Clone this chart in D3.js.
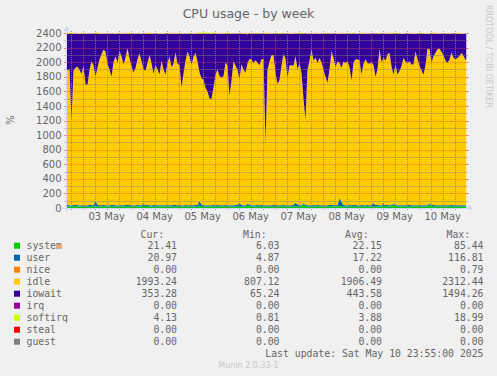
<!DOCTYPE html>
<html>
<head>
<meta charset="utf-8">
<script src="https://cdn.jsdelivr.net/npm/d3@7"></script>
<style>
    body { margin: 0; background: #F0F0F0; }
    svg { display: block; }
    text { font-family: "DejaVu Sans", sans-serif; fill: #666666; }
    .mono { font-family: "DejaVu Sans Mono", monospace; }
</style>
</head>
<body>
<svg id="chart" width="497" height="376"></svg>

<script>
    // one value per hour, 2025-05-02 15:55 -> 2025-05-10 23:55
    var startTime = new Date(2025, 4, 2, 15, 55);
    var endTime = new Date(2025, 4, 10, 23, 55);

    var system = [
        22,21,20,23,24,21,20,19,22,21,20,22,23,21,25,22,20,21,22,21,
        20,21,23,22,21,20,22,21,23,22,24,21,20,22,21,23,22,21,40,24,
        22,21,20,22,23,21,22,20,21,23,22,21,20,22,24,21,22,21,20,22,
        21,23,22,20,21,22,35,24,22,21,20,22,21,23,22,21,20,22,21,23,
        22,21,20,22,21,23,22,21,20,22,45,30,22,21,20,22,21,23,22,21,
        20,22,21,23,22,21,20,22,24,21,22,21,20,22,23,21,22,21,50,28,
        22,21,20,22,21,23,22,21,20,22,21,23,22,21,24,22,28,25,22,21,
        20,22,21,23,22,21,20,22,21,23,22,21,20,22,21,23,22,21,40,24,
        22,21,20,45,26,22,21,20,22,21,23,22,21,20,22,21,23,22,21,20,
        22,45,26,22,21,20,22,21,23,22,21,20,22,21,23,22,21,20,22,21
    ];
    var user = [
        18,17,16,18,19,17,16,18,17,16,18,19,17,18,80,22,17,16,18,17,
        16,18,17,19,17,16,18,17,16,18,17,19,18,17,16,18,17,16,18,17,
        18,17,16,18,19,17,16,18,17,16,18,17,19,18,17,16,18,17,16,18,
        17,16,18,17,19,18,60,25,17,16,18,17,16,18,17,19,18,17,16,18,
        17,16,18,17,19,18,45,20,17,16,18,17,16,18,17,19,18,17,16,18,
        17,16,18,17,19,18,17,16,18,17,16,18,17,19,50,30,17,16,18,17,
        16,18,17,19,18,17,16,18,17,16,18,17,19,18,17,16,110,60,18,17,
        16,18,17,19,18,17,16,18,17,16,18,17,19,45,20,17,16,18,17,16,
        18,17,19,18,17,16,18,17,16,18,17,19,18,17,16,18,17,16,18,17,
        16,18,17,19,18,17,16,18,17,16,18,17,19,18,17,16,18,17,16,18
    ];
    var idle = [
        1850,1860,1160,1840,1880,1900,1860,1800,1910,1660,1650,1850,1970,1920,1695,1880,2000,2070,2130,2110,
        1940,1860,1760,1960,2040,1960,2110,2040,1930,2020,2150,2010,1910,1820,1880,2000,2080,1980,1840,1840,
        1950,2060,1950,1800,1920,1860,1790,1980,1860,1790,1950,2040,1890,1940,2090,1940,1920,1610,1810,1980,
        2110,2040,1920,2040,2090,1970,1765,1730,1720,1610,1560,1460,1460,1610,1790,1860,1770,1750,1770,1950,
        1920,1500,1710,1970,1910,1860,1695,1930,1860,1820,1920,1995,2000,1950,1990,1950,1920,2000,2010,860,
        1860,1970,2060,2060,1810,1660,1720,1910,2070,2010,1750,1920,1920,1910,2010,1850,1950,1810,1430,1160,
        1860,1980,2140,1980,2020,1950,2020,1960,1860,1760,1680,1860,2110,2020,1890,1970,1850,1835,1970,1950,
        1980,1890,1710,1950,2000,2000,1990,1790,1940,2000,1950,1940,1960,1895,1760,1860,2140,1960,2000,1980,
        2070,2090,1900,1765,1920,1790,1840,1910,2020,1970,1950,1970,1930,1930,2110,2000,1910,1850,1790,1920,
        2150,2115,1950,2040,2090,2140,2150,2100,2050,1980,1950,2000,2090,2020,2000,2020,2050,2090,2050,1990
    ];
    var iowait = [
        500,490,1190,510,470,450,490,550,440,690,700,500,380,430,590,470,350,280,220,240,
        410,490,590,390,310,390,240,310,420,330,200,340,440,530,470,350,270,370,490,510,
        400,290,400,550,430,490,560,370,490,560,400,310,460,410,260,410,430,740,540,370,
        240,310,430,310,260,380,530,610,630,740,790,890,890,740,560,490,580,600,580,400,
        430,850,640,380,440,490,630,420,490,530,400,350,350,400,360,400,430,350,340,1490,
        490,380,290,290,540,690,630,440,280,340,600,430,430,440,310,490,400,540,890,1190,
        490,370,210,370,330,400,330,390,490,590,670,490,240,330,460,380,400,470,380,400,
        370,460,640,400,350,350,360,560,410,350,400,410,390,430,590,490,210,390,330,370,
        280,260,450,560,430,560,510,440,330,380,400,380,420,420,240,350,440,500,560,430,
        200,210,400,310,260,210,200,250,300,370,400,350,260,330,350,330,300,260,300,360
    ];
    var softirq = [
        14,15,13,12,4,3,4,13,14,3,4,3,4,3,12,14,13,4,3,4,
        3,4,3,4,3,13,12,3,4,3,4,14,13,4,3,4,3,4,3,4,
        15,14,13,4,3,4,3,4,3,12,14,4,3,4,13,12,3,4,3,4,
        3,14,4,3,4,15,16,18,17,16,15,14,17,16,15,4,3,4,3,13,
        14,12,4,3,4,3,13,4,3,14,15,4,3,4,13,14,3,4,12,14,
        13,4,3,4,12,13,4,14,12,3,4,3,4,13,4,3,14,15,13,4,
        3,4,3,4,3,4,3,4,3,13,14,4,3,4,3,4,3,4,3,4,
        3,4,14,13,4,3,12,14,4,3,4,3,4,3,4,3,13,4,3,4,
        3,4,15,14,4,13,14,4,3,4,3,4,3,4,3,4,13,14,12,4,
        3,4,14,15,4,3,4,3,4,3,13,4,3,4,3,12,13,4,3,4
    ];

    var seriesNames = ["system", "user", "nice", "idle", "iowait", "irq", "softirq", "steal", "guest"];
    var seriesColors = ["#00CC00", "#0066B3", "#FF8000", "#FFCC00", "#330099", "#990099", "#CCFF00", "#FF0000", "#808080"];
    var curVals = ["21.41", "20.97", "0.00", "1993.24", "353.28", "0.00", "4.13", "0.00", "0.00"];
    var minVals = ["6.03", "4.87", "0.00", "807.12", "65.24", "0.00", "0.81", "0.00", "0.00"];
    var avgVals = ["22.15", "17.22", "0.00", "1906.49", "443.58", "0.00", "3.88", "0.00", "0.00"];
    var maxVals = ["85.44", "116.81", "0.79", "2312.44", "1494.26", "0.00", "18.99", "0.00", "0.00"];

    var yTicks = [0, 200, 400, 600, 800, 1000, 1200, 1400, 1600, 1800, 2000, 2200, 2400];
    var dayLabels = ["03 May", "04 May", "05 May", "06 May", "07 May", "08 May", "09 May", "10 May"];

    var svg = d3.select("#chart");
    var W = 497, H = 376;
    var X0 = 66.5, X1 = 466.5, Y0 = 208, Y1 = 33;

    svg.append("rect").attr("width", W).attr("height", H).attr("fill", "#F0F0F0");
    svg.append("rect").attr("x", X0).attr("y", Y1).attr("width", X1 - X0).attr("height", Y0 - Y1).attr("fill", "#FFFFFF");

    var x = d3.scaleTime().domain([startTime, endTime]).range([X0, X1]);
    var y = d3.scaleLinear().domain([0, 2400]).range([Y0, Y1]);

    // table for the stack
    var rows = system.map(function (v, i) {
        return {
            t: new Date(+startTime + (i + 0.5) * 3600e3),
            system: v, user: user[i], idle: idle[i], iowait: iowait[i], softirq: softirq[i]
        };
    });
    rows.unshift(Object.assign({}, rows[0], { t: startTime }));
    rows.push(Object.assign({}, rows[rows.length - 1], { t: endTime }));

    var keys = ["system", "user", "idle", "iowait", "softirq"];
    var stacked = d3.stack().keys(keys)(rows);
    var color = d3.scaleOrdinal(seriesNames, seriesColors);

    svg.append("clipPath").attr("id", "plotclip")
        .append("rect").attr("x", X0).attr("y", Y1 - 1).attr("width", X1 - X0).attr("height", Y0 - Y1 + 1);

    var area = d3.area()
        .x(d => x(d.data.t))
        .y0(d => y(d[0]))
        .y1(d => y(d[1]));

    svg.append("g").attr("clip-path", "url(#plotclip)")
        .selectAll("path")
        .data(stacked)
        .join("path")
        .attr("fill", d => color(d.key))
        .attr("d", area);

    // grid (drawn over the areas, like rrdtool)
    var grid = svg.append("g");
    var GRID = "rgba(130,130,130,0.85)", MGRID = "rgba(222,79,79,0.7)";

    var minorX = d3.timeHour.every(6).range(startTime, endTime).filter(d => d.getHours() != 0);
    var majorX = d3.timeDay.range(startTime, endTime);
    var minorY = d3.range(100, 2400, 200);

    minorX.forEach(function (t) {
        var px = Math.round(x(t)) + 0.5;
        grid.append("line").attr("x1", px).attr("x2", px).attr("y1", Y1 - 2).attr("y2", Y0 + 2)
            .attr("stroke", GRID).attr("stroke-dasharray", "1,1");
    });
    minorY.forEach(function (v) {
        var py = Math.round(y(v)) + 0.5;
        grid.append("line").attr("x1", X0 - 2).attr("x2", X1 + 2).attr("y1", py).attr("y2", py)
            .attr("stroke", GRID).attr("stroke-dasharray", "1,1");
    });
    majorX.forEach(function (t) {
        var px = Math.round(x(t)) + 0.5;
        grid.append("line").attr("x1", px).attr("x2", px).attr("y1", Y1 - 2).attr("y2", Y0 + 2)
            .attr("stroke", MGRID).attr("stroke-dasharray", "1,1");
    });
    yTicks.forEach(function (v) {
        var py = Math.round(y(v)) + 0.5;
        grid.append("line").attr("x1", X0 - 2).attr("x2", X1 + 2).attr("y1", py).attr("y2", py)
            .attr("stroke", MGRID).attr("stroke-dasharray", "1,1");
        grid.append("line").attr("x1", X0 - 2).attr("x2", X0).attr("y1", py).attr("y2", py).attr("stroke", MGRID);
        grid.append("line").attr("x1", X1).attr("x2", X1 + 2).attr("y1", py).attr("y2", py).attr("stroke", MGRID);
    });

    // axes and arrows
    var AXIS = "#CFD6F8";
    svg.append("line").attr("x1", X0 - 4).attr("x2", X1 + 4).attr("y1", Y0 + 0.5).attr("y2", Y0 + 0.5).attr("stroke", AXIS);
    svg.append("line").attr("x1", X0).attr("x2", X0).attr("y1", Y0 + 4).attr("y2", Y1 - 4).attr("stroke", AXIS);
    svg.append("path").attr("fill", AXIS)
        .attr("d", `M${X1 + 2},${Y0 - 3}L${X1 + 2},${Y0 + 3}L${X1 + 7},${Y0}Z`);
    svg.append("path").attr("fill", AXIS)
        .attr("d", `M${X0 - 3},${Y1 - 2}L${X0 + 3},${Y1 - 2}L${X0},${Y1 - 7}Z`);

    // y tick labels
    svg.append("g").selectAll("text")
        .data(yTicks)
        .join("text")
        .attr("x", 61.5)
        .attr("y", d => y(d) + 3.6)
        .attr("text-anchor", "end")
        .attr("font-size", 10)
        .text(d => d);

    // x labels at noon
    svg.append("g").selectAll("text")
        .data(dayLabels)
        .join("text")
        .attr("x", (d, i) => x(d3.timeHour.offset(majorX[i], 12)))
        .attr("y", 220.3)
        .attr("text-anchor", "middle")
        .attr("font-size", 10)
        .text(d => d);

    svg.append("text")
        .attr("x", W / 2).attr("y", 17.5)
        .attr("text-anchor", "middle")
        .attr("font-size", 12.5)
        .text("CPU usage - by week");

    svg.append("text")
        .attr("transform", "translate(10,120) rotate(-90)")
        .attr("text-anchor", "middle")
        .attr("dy", "0.35em")
        .attr("font-size", 10)
        .text("%");

    svg.append("text")
        .attr("transform", "translate(489,56.5) rotate(90)")
        .attr("text-anchor", "middle")
        .attr("dy", "0.35em")
        .attr("font-size", 8)
        .attr("style", "fill:#C8C8C8")
        .text("RRDTOOL / TOBI OETIKER");

    // legend
    var lg = svg.append("g").attr("class", "mono").attr("font-size", 9.8);
    var headX = [140.5, 243, 345, 446.5];
    ["Cur:", "Min:", "Avg:", "Max:"].forEach(function (h, i) {
        lg.append("text").attr("class", "mono").attr("x", headX[i]).attr("y", 237.5).text(h);
    });
    var colX = [177, 279.5, 382, 483.5];
    var cols = [curVals, minVals, avgVals, maxVals];
    seriesNames.forEach(function (name, k) {
        var cy = 245.7 + 12 * k;
        lg.append("rect").attr("x", 14).attr("y", cy - 3).attr("width", 6).attr("height", 6)
            .attr("fill", seriesColors[k]);
        lg.append("text").attr("class", "mono").attr("x", 26.5).attr("y", cy + 3.5).text(name);
        cols.forEach(function (vals, c) {
            lg.append("text").attr("class", "mono").attr("x", colX[c]).attr("y", cy + 3.5)
                .attr("text-anchor", "end").text(vals[k]);
        });
    });
    lg.append("text").attr("class", "mono").attr("x", 483.5).attr("y", 356.8)
        .attr("text-anchor", "end").text("Last update: Sat May 10 23:55:00 2025");

    svg.append("text")
        .attr("x", 248.5).attr("y", 368)
        .attr("text-anchor", "middle")
        .attr("font-size", 8)
        .attr("style", "fill:#C8C8C8")
        .text("Munin 2.0.33-1");
</script>
</body>
</html>
